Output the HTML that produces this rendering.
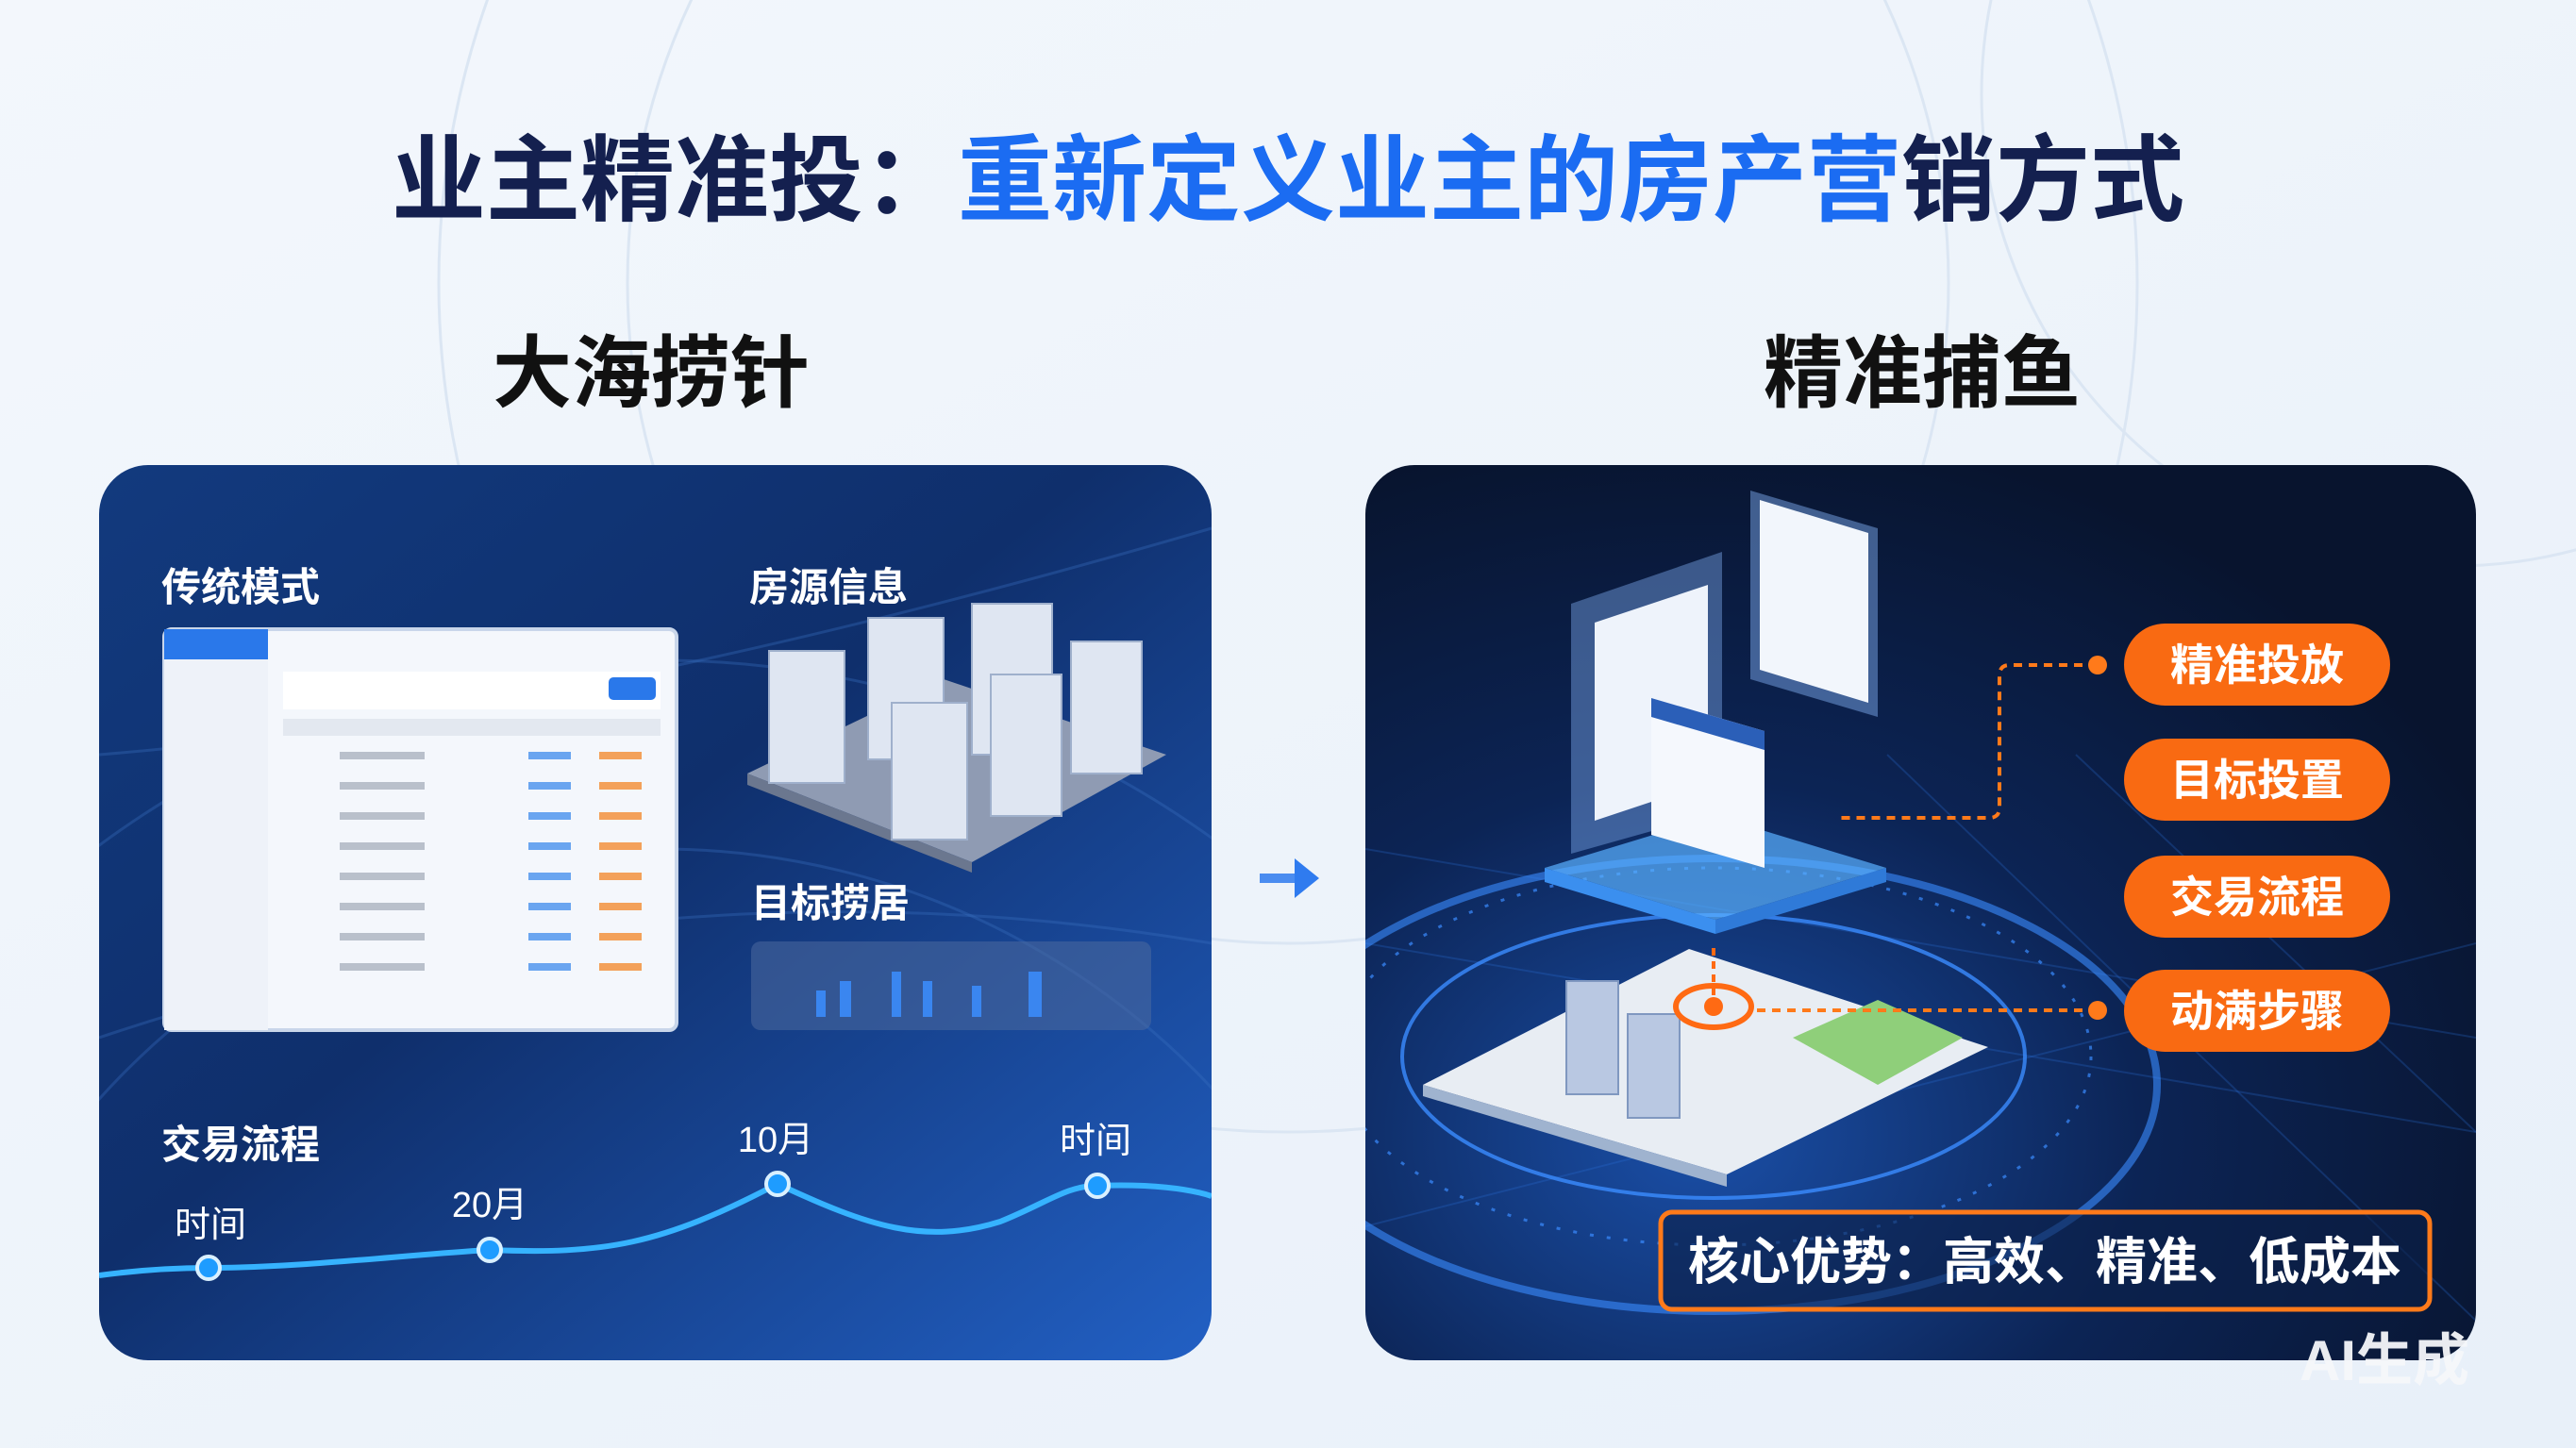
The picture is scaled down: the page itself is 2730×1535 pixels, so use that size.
<!DOCTYPE html>
<html><head><meta charset="utf-8"><style>
html,body{margin:0;padding:0;width:2730px;height:1535px;overflow:hidden;background:#eef3f9}
svg{display:block;vertical-align:top}
text{font-family:"Liberation Sans","Noto Sans CJK SC",sans-serif}
</style></head><body>
<svg width="2730" height="1535" viewBox="0 0 2730 1535" xmlns="http://www.w3.org/2000/svg">
<defs>
<linearGradient id="bg" x1="0" y1="0" x2="1" y2="1"><stop offset="0" stop-color="#f3f7fc"/><stop offset="1" stop-color="#e8f0f9"/></linearGradient>
<linearGradient id="lp" x1="0" y1="0" x2="1" y2="1"><stop offset="0" stop-color="#123a7e"/><stop offset="0.45" stop-color="#0f2f6c"/><stop offset="1" stop-color="#2260c4"/></linearGradient>
<radialGradient id="rp" cx="0.3" cy="0.75" r="0.8"><stop offset="0" stop-color="#1a4fa8"/><stop offset="0.5" stop-color="#0c2455"/><stop offset="1" stop-color="#08142e"/></radialGradient>
<clipPath id="cl"><rect x="105" y="493" width="1179" height="949" rx="52"/></clipPath>
<clipPath id="cr"><rect x="1447" y="493" width="1177" height="949" rx="52"/></clipPath>
</defs>
<rect width="2730" height="1535" fill="url(#bg)"/>
<g fill="none" stroke="#dbe6f3" stroke-width="3">
<circle cx="1365" cy="300" r="700"/><circle cx="1365" cy="300" r="900"/><circle cx="2600" cy="100" r="500"/>
</g>
<text x="1365" y="226" text-anchor="middle" font-size="100" font-weight="bold" fill="#14204f">业主精准投：<tspan fill="#1b6cf2">重新定义业主的房产营</tspan>销方式</text>
<text x="690" y="425" text-anchor="middle" font-size="84" font-weight="bold" fill="#111">大海捞针</text>
<text x="2037" y="425" text-anchor="middle" font-size="84" font-weight="bold" fill="#111">精准捕鱼</text>

<rect x="105" y="493" width="1179" height="949" rx="52" fill="url(#lp)"/>
<g clip-path="url(#cl)">
<g fill="none" stroke="#3a6fc0" stroke-opacity="0.35" stroke-width="3">
<circle cx="700" cy="1700" r="800"/><circle cx="700" cy="1700" r="1000"/><path d="M105 1100 Q700 900 1284 1000"/><path d="M105 800 Q600 760 1284 560"/>
</g>
<rect x="174" y="667" width="543" height="425" rx="8" fill="#f4f7fc" stroke="#c9d6ea" stroke-width="4"/>
<rect x="174" y="667" width="110" height="425" fill="#eef2f9"/>
<rect x="174" y="667" width="110" height="32" fill="#2a78ea"/>
<rect x="300" y="712" width="400" height="40" fill="#fff"/>
<rect x="645" y="718" width="50" height="24" rx="5" fill="#2a78ea"/>
<rect x="300" y="762" width="400" height="18" fill="#e3e8f0"/>
<g>
<rect x="360" y="797" width="90" height="8" fill="#b9c0cb"/><rect x="560" y="797" width="45" height="8" fill="#6aa5f0"/><rect x="635" y="797" width="45" height="8" fill="#f3a15a"/>
<rect x="360" y="829" width="90" height="8" fill="#b9c0cb"/><rect x="560" y="829" width="45" height="8" fill="#6aa5f0"/><rect x="635" y="829" width="45" height="8" fill="#f3a15a"/>
<rect x="360" y="861" width="90" height="8" fill="#b9c0cb"/><rect x="560" y="861" width="45" height="8" fill="#6aa5f0"/><rect x="635" y="861" width="45" height="8" fill="#f3a15a"/>
<rect x="360" y="893" width="90" height="8" fill="#b9c0cb"/><rect x="560" y="893" width="45" height="8" fill="#6aa5f0"/><rect x="635" y="893" width="45" height="8" fill="#f3a15a"/>
<rect x="360" y="925" width="90" height="8" fill="#b9c0cb"/><rect x="560" y="925" width="45" height="8" fill="#6aa5f0"/><rect x="635" y="925" width="45" height="8" fill="#f3a15a"/>
<rect x="360" y="957" width="90" height="8" fill="#b9c0cb"/><rect x="560" y="957" width="45" height="8" fill="#6aa5f0"/><rect x="635" y="957" width="45" height="8" fill="#f3a15a"/>
<rect x="360" y="989" width="90" height="8" fill="#b9c0cb"/><rect x="560" y="989" width="45" height="8" fill="#6aa5f0"/><rect x="635" y="989" width="45" height="8" fill="#f3a15a"/>
<rect x="360" y="1021" width="90" height="8" fill="#b9c0cb"/><rect x="560" y="1021" width="45" height="8" fill="#6aa5f0"/><rect x="635" y="1021" width="45" height="8" fill="#f3a15a"/>
</g>
<text x="171" y="637" font-size="42" font-weight="bold" fill="#fff">传统模式</text>
<text x="794" y="637" font-size="42" font-weight="bold" fill="#fff">房源信息</text>
<polygon points="792,820 1000,720 1236,800 1030,914" fill="#8f9bb3"/>
<polygon points="792,820 1030,914 1030,925 792,832" fill="#6b778f"/>
<g fill="#dfe6f2" stroke="#9fb0cc" stroke-width="2">
<rect x="815" y="690" width="80" height="140"/><rect x="920" y="655" width="80" height="150"/><rect x="1030" y="640" width="85" height="160"/>
<rect x="1135" y="680" width="75" height="140"/><rect x="1050" y="715" width="75" height="150"/><rect x="945" y="745" width="80" height="145"/>
</g>
<text x="796" y="972" font-size="42" font-weight="bold" fill="#fff">目标捞居</text>
<rect x="796" y="998" width="424" height="94" rx="10" fill="#4d6a9e" fill-opacity="0.55"/>
<g fill="#3a86f0"><rect x="865" y="1050" width="10" height="28"/><rect x="890" y="1040" width="12" height="38"/><rect x="945" y="1030" width="10" height="48"/><rect x="978" y="1040" width="10" height="38"/><rect x="1030" y="1045" width="10" height="33"/><rect x="1090" y="1030" width="14" height="48"/></g>
<text x="171" y="1228" font-size="42" font-weight="bold" fill="#fff">交易流程</text>
<path d="M105 1352 C150 1346 190 1344 221 1344 C320 1344 430 1330 519 1325 C640 1330 700 1320 824 1255 C920 1300 980 1320 1060 1295 C1110 1275 1130 1257 1163 1257 C1220 1255 1260 1260 1284 1268" fill="none" stroke="#36b3ff" stroke-width="6"/>
<g fill="#1e9cff" stroke="#d9f0ff" stroke-width="4"><circle cx="221" cy="1344" r="12"/><circle cx="519" cy="1325" r="12"/><circle cx="824" cy="1255" r="12"/><circle cx="1163" cy="1257" r="12"/></g>
<g font-size="38" fill="#fff" text-anchor="middle"><text x="223" y="1311">时间</text><text x="519" y="1290">20月</text><text x="822" y="1221">10月</text><text x="1161" y="1222">时间</text></g>
</g>

<path d="M1335 931 L1375 931" stroke="#4a8cf0" stroke-width="10"/>
<polygon points="1372,910 1398,931 1372,952" fill="#2f7bef"/>

<rect x="1447" y="493" width="1177" height="949" rx="52" fill="url(#rp)"/>
<g clip-path="url(#cr)">
<g fill="none" stroke="#2d72e0" stroke-opacity="0.25" stroke-width="2">
<path d="M1447 900 L2624 1100"/><path d="M1447 1000 L2624 1200"/><path d="M2000 800 L2624 1400"/><path d="M2200 800 L2624 1200"/><path d="M1447 1300 L2624 1000"/>
</g>
<g fill="none" stroke="#3b8cff">
<ellipse cx="1816" cy="1120" rx="330" ry="150" stroke-width="4" stroke-opacity="0.8"/>
<ellipse cx="1816" cy="1120" rx="400" ry="200" stroke-width="3" stroke-dasharray="4 14" stroke-opacity="0.7"/>
<ellipse cx="1816" cy="1150" rx="470" ry="240" stroke-width="8" stroke-opacity="0.6"/>
</g>
<polygon points="1508,1150 1790,1006 2107,1110 1830,1245" fill="#e8edf3"/>
<polygon points="1900,1100 1990,1060 2080,1100 1990,1150" fill="#8fcf7a"/>
<polygon points="1508,1150 1830,1245 1830,1258 1508,1162" fill="#9fb3cf"/>
<g fill="#b9c8e2" stroke="#8098c0" stroke-width="2"><rect x="1660" y="1040" width="55" height="120"/><rect x="1725" y="1075" width="55" height="110"/></g>
<ellipse cx="1816" cy="1067" rx="40" ry="22" fill="none" stroke="#ff6a13" stroke-width="6"/>
<circle cx="1816" cy="1067" r="10" fill="#ff6a13"/>
<line x1="1816" y1="1005" x2="1816" y2="1055" stroke="#ff6a13" stroke-width="4" stroke-dasharray="8 6"/>
<polygon points="1637,920 1818,975 1999,920 1818,865" fill="#5ab0ff" fill-opacity="0.7"/>
<polygon points="1637,920 1818,975 1818,990 1637,935" fill="#3b8fef"/>
<polygon points="1999,920 1818,975 1818,990 1999,935" fill="#2f7ad8"/>
<polygon points="1665,640 1825,585 1825,860 1665,905" fill="#7aa6e8" fill-opacity="0.45"/>
<polygon points="1690,660 1810,620 1810,830 1690,870" fill="#eef3fb"/>
<polygon points="1855,520 1990,560 1990,760 1855,720" fill="#7aa6e8" fill-opacity="0.5"/>
<polygon points="1865,530 1980,565 1980,745 1865,710" fill="#f2f6fc"/>
<polygon points="1750,740 1870,775 1870,920 1750,885" fill="#f5f8fd"/>
<polygon points="1750,740 1870,775 1870,795 1750,760" fill="#2b5fb8"/>
<g fill="none" stroke="#ff7a1a" stroke-width="4" stroke-dasharray="9 7">
<path d="M2223 705 L2130 705 Q2119 705 2119 716 L2119 856 Q2119 867 2108 867 L1950 867"/>
<path d="M2223 1071 L1862 1071"/>
</g>
<circle cx="2223" cy="705" r="10" fill="#ff7a1a"/><circle cx="2223" cy="1071" r="10" fill="#ff7a1a"/>
<g fill="#f96a12">
<rect x="2251" y="661" width="282" height="87" rx="43.5"/><rect x="2251" y="783" width="282" height="87" rx="43.5"/>
<rect x="2251" y="907" width="282" height="87" rx="43.5"/><rect x="2251" y="1028" width="282" height="87" rx="43.5"/>
</g>
<g font-size="46" fill="#fff" text-anchor="middle" font-weight="bold">
<text x="2392" y="721">精准投放</text><text x="2392" y="843">目标投置</text><text x="2392" y="967">交易流程</text><text x="2392" y="1088">动满步骤</text>
</g>
<rect x="1760" y="1285" width="815" height="103" rx="12" fill="#0c1f48" fill-opacity="0.6" stroke="#ff7a1a" stroke-width="5"/>
<text x="2167" y="1356" text-anchor="middle" font-size="54" font-weight="bold" fill="#fff">核心优势：高效、精准、低成本</text>
</g>
<text x="2437" y="1463" font-size="60" font-weight="bold" fill="#f5f7fa" fill-opacity="0.95">AI生成</text>
</svg>
</body></html>
